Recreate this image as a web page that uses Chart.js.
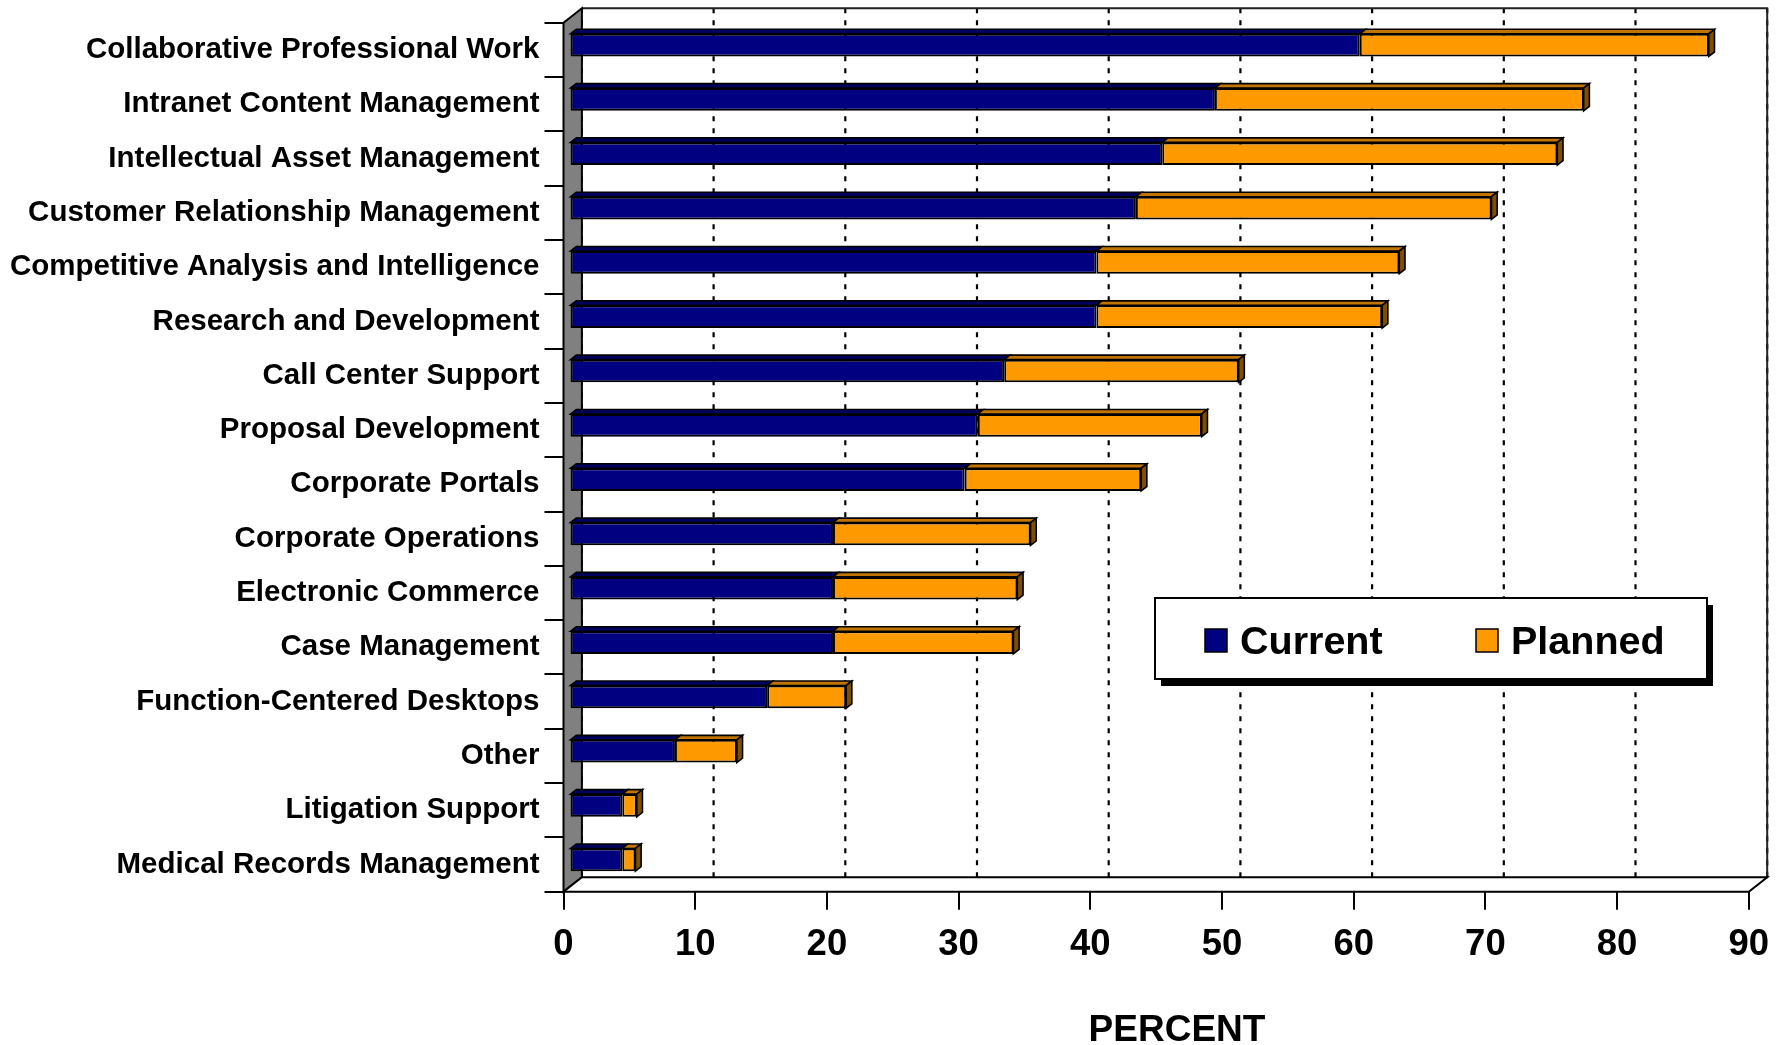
<!DOCTYPE html>
<html>
<head>
<meta charset="utf-8">
<title>Knowledge Management Applications</title>
<script src="https://cdn.jsdelivr.net/npm/chart.js@4.4.0/dist/chart.umd.min.js"></script>
<style>
  html, body { margin: 0; padding: 0; background: #fff; }
  #wrap { width: 1786px; height: 1045px; }
</style>
</head>
<body>
<div id="wrap"><canvas id="appChart" width="1786" height="1045"></canvas></div>
<script>
const categories = [
  "Collaborative Professional Work",
  "Intranet Content Management",
  "Intellectual Asset Management",
  "Customer Relationship Management",
  "Competitive Analysis and Intelligence",
  "Research and Development",
  "Call Center Support",
  "Proposal Development",
  "Corporate Portals",
  "Corporate Operations",
  "Electronic Commerce",
  "Case Management",
  "Function-Centered Desktops",
  "Other",
  "Litigation Support",
  "Medical Records Management"
];
const currentPct = [60, 49, 45, 43, 40, 40, 33, 31, 30, 20, 20, 20, 15, 8, 4, 4];
const plannedPct = [26.5, 28, 30, 27, 23, 21.7, 17.8, 17, 13.4, 15, 14, 13.7, 6, 4.7, 1.1, 1];
const xTicks = [0, 10, 20, 30, 40, 50, 60, 70, 80, 90];
const seriesNames = ["Current", "Planned"];
const axisTitle = "PERCENT";

const FONT = "'Liberation Sans', Arial, sans-serif";

// depth of the box (front plane -> back wall) and where the bars sit in it
const DEPTH = { x: 18.4, y: -14.4 };
const BAR_FRONT = 0.33;
const BAR_BACK = 0.64;

const frontColors = ["#000080", "#ff9900"];
const topColors = ["#00005e", "#c27400"];
const sideColor = "#7f4f00";

function poly(ctx, pts, fill, stroke, lw) {
  ctx.beginPath();
  ctx.moveTo(pts[0][0], pts[0][1]);
  for (let i = 1; i < pts.length; i++) ctx.lineTo(pts[i][0], pts[i][1]);
  ctx.closePath();
  if (fill) { ctx.fillStyle = fill; ctx.fill(); }
  if (stroke) { ctx.strokeStyle = stroke; ctx.lineWidth = lw || 2; ctx.stroke(); }
}

const boxPlugin = {
  id: "box3d",
  beforeDatasetsDraw(chart) {
    const { ctx, chartArea: a } = chart;
    const xs = chart.scales.x;
    const dx = DEPTH.x, dy = DEPTH.y;
    ctx.save();

    // back wall
    ctx.fillStyle = "#fff";
    ctx.fillRect(a.left + dx, a.top + dy, a.right - a.left, a.bottom - a.top);

    // dotted gridlines on the wall and the floor
    ctx.strokeStyle = "#000";
    ctx.lineWidth = 2.2;
    ctx.setLineDash([5, 7]);
    xTicks.forEach(v => {
      const px = xs.getPixelForValue(v);
      ctx.beginPath();
      ctx.moveTo(px + dx, a.bottom + dy);
      ctx.lineTo(px + dx, a.top + dy);
      ctx.stroke();
    });
    ctx.setLineDash([2, 9]);
    ctx.lineWidth = 1.5;
    xTicks.forEach(v => {
      const px = xs.getPixelForValue(v);
      ctx.beginPath();
      ctx.moveTo(px, a.bottom);
      ctx.lineTo(px + dx, a.bottom + dy);
      ctx.stroke();
    });
    ctx.setLineDash([]);

    // wall top and right edges
    ctx.strokeStyle = "#222";
    ctx.lineWidth = 2;
    ctx.beginPath();
    ctx.moveTo(a.left + dx, a.top + dy);
    ctx.lineTo(a.right + dx, a.top + dy);
    ctx.lineTo(a.right + dx, a.bottom + dy);
    ctx.stroke();

    // grey side wall
    poly(ctx, [
      [a.left, a.top], [a.left + dx, a.top + dy],
      [a.left + dx, a.bottom + dy], [a.left, a.bottom]
    ], "#808080", "#000", 2);

    // floor
    poly(ctx, [
      [a.left, a.bottom], [a.right, a.bottom],
      [a.right + dx, a.bottom + dy], [a.left + dx, a.bottom + dy]
    ], "#fff", "#000", 2);

    ctx.restore();

    // bars are drawn set back into the box
    ctx.save();
    ctx.translate(DEPTH.x * BAR_FRONT, DEPTH.y * BAR_FRONT);
  },
  afterDatasetsDraw(chart) {
    const ctx = chart.ctx;
    const ox = DEPTH.x * (BAR_BACK - BAR_FRONT);
    const oy = DEPTH.y * (BAR_BACK - BAR_FRONT);
    const last = chart.data.datasets.length - 1;
    chart.data.datasets.forEach((ds, di) => {
      const meta = chart.getDatasetMeta(di);
      meta.data.forEach(el => {
        const p = el.getProps(["x", "y", "base", "height"], true);
        const top = p.y - p.height / 2;
        const bottom = p.y + p.height / 2;
        poly(ctx, [
          [p.base, top], [p.x, top], [p.x + ox, top + oy], [p.base + ox, top + oy]
        ], topColors[di], "#000", 1.6);
        if (di === last) {
          poly(ctx, [
            [p.x, top], [p.x + ox, top + oy], [p.x + ox, bottom + oy], [p.x, bottom]
          ], sideColor, "#000", 1.6);
        }
      });
    });
    ctx.restore();
  },
  afterDraw(chart) {
    const ctx = chart.ctx;
    ctx.save();

    // axis title
    ctx.fillStyle = "#000";
    ctx.font = "bold 37px " + FONT;
    ctx.textAlign = "center";
    ctx.textBaseline = "middle";
    ctx.fillText(axisTitle, 1177, 1031);

    // legend box with drop shadow
    const lx = 1155, ly = 598, lw = 552, lh = 81;
    ctx.fillStyle = "#000";
    ctx.fillRect(lx + 6, ly + 7, lw, lh);
    ctx.fillStyle = "#fff";
    ctx.fillRect(lx, ly, lw, lh);
    ctx.strokeStyle = "#000";
    ctx.lineWidth = 2;
    ctx.strokeRect(lx, ly, lw, lh);

    const itemX = [1205, 1476];
    ctx.font = "bold 39.5px " + FONT;
    ctx.textAlign = "left";
    ctx.textBaseline = "alphabetic";
    chart.data.datasets.forEach((ds, i) => {
      ctx.fillStyle = ds.backgroundColor;
      ctx.fillRect(itemX[i], 629, 22, 23);
      ctx.strokeStyle = "#000";
      ctx.lineWidth = 1.5;
      ctx.strokeRect(itemX[i], 629, 22, 23);
      ctx.fillStyle = "#000";
      ctx.fillText(ds.label, itemX[i] + 35, 654);
    });
    ctx.restore();
  }
};

const ctx = document.getElementById("appChart").getContext("2d");

const chart = new Chart(ctx, {
  type: "bar",
  data: {
    labels: categories,
    datasets: [
      {
        label: seriesNames[0],
        data: currentPct,
        backgroundColor: frontColors[0],
        borderColor: "#000",
        borderWidth: 2,
        borderSkipped: false
      },
      {
        label: seriesNames[1],
        data: plannedPct,
        backgroundColor: frontColors[1],
        borderColor: "#000",
        borderWidth: 2,
        borderSkipped: false
      }
    ]
  },
  options: {
    indexAxis: "y",
    responsive: false,
    animation: false,
    devicePixelRatio: 1,
    barPercentage: 0.418,
    categoryPercentage: 1,
    layout: { padding: { top: 21.7, right: 37.2, left: 0, bottom: 0 } },
    plugins: {
      legend: { display: false },
      tooltip: { enabled: false }
    },
    scales: {
      x: {
        stacked: true,
        min: 0,
        max: 90,
        afterBuildTicks: s => { s.ticks = xTicks.map(v => ({ value: v })); },
        afterFit: s => { s.height = 153.3; },
        border: { display: false },
        grid: {
          drawOnChartArea: false,
          drawTicks: true,
          tickLength: 18,
          color: "#000",
          lineWidth: 2
        },
        ticks: {
          color: "#000",
          padding: 13,
          maxRotation: 0,
          font: { family: FONT, size: 36.5, weight: "bold" }
        }
      },
      y: {
        stacked: true,
        afterFit: s => { s.width = 563.5; },
        border: { display: false },
        grid: {
          offset: true,
          drawOnChartArea: false,
          drawTicks: true,
          tickLength: 19,
          color: "#000",
          lineWidth: 2
        },
        ticks: {
          color: "#000",
          padding: 5,
          font: { family: FONT, size: 29.5, weight: "bold" }
        }
      }
    }
  },
  plugins: [boxPlugin]
});
</script>
</body>
</html>
